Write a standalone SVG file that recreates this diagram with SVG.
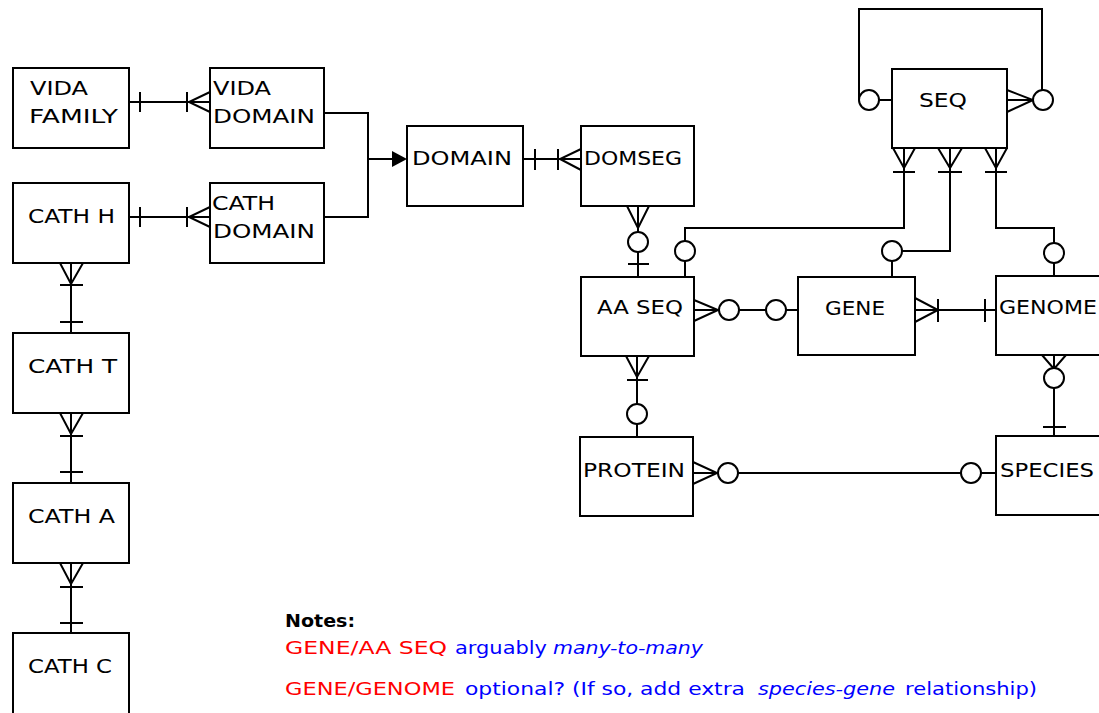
<svg xmlns="http://www.w3.org/2000/svg" width="1099" height="713" viewBox="0 0 1099 713">
<style>
.box{fill:#fff;stroke:#000;stroke-width:2}
.ln{fill:none;stroke:#000;stroke-width:2}
.c{fill:#fff;stroke:#000;stroke-width:2}
.t{font-family:"DejaVu Sans","Liberation Sans",sans-serif;font-size:19px;fill:#000}
.n{font-family:"DejaVu Sans","Liberation Sans",sans-serif;font-size:18.5px}
.red{fill:#ff0000}
.blue{fill:#0000ff}
.it{font-style:italic}
</style>
<rect width="1099" height="713" fill="#fff"/>
<g id="connectors">
  <path class="ln" d="M129,102 H210 M140,92 V112 M187,92 V112 M210,92 L189,102 L210,112"/>
  <path class="ln" d="M129,217 H210 M140,207 V227 M187,207 V227 M210,207 L189,217 L210,227"/>
  <path class="ln" d="M324,113 H368 V217 H324 M368,159 H394"/>
  <polygon points="392,151 407,159 392,167" fill="#000"/>
  <path class="ln" d="M523,159 H581 M535,149 V170 M558,149 V170 M581,149 L560,159 L581,170"/>
  <path class="ln" d="M638,206 V232 M627,206 L638,228 L649,206 M638,252 V277 M628,264 H649"/>
  <circle class="c" cx="638" cy="242" r="10"/>
  <path class="ln" d="M904,148 V228 H685 V241 M893,148 L904,168 L915,148 M893,172 H915 M685,261 V277"/>
  <circle class="c" cx="685" cy="251" r="10"/>
  <path class="ln" d="M950,148 V251 H902 M938,148 L950,168 L962,148 M938,172 H962 M892,261 V277"/>
  <circle class="c" cx="892" cy="251" r="10"/>
  <path class="ln" d="M996,148 V228 H1054 V243 M985,148 L996,168 L1007,148 M985,172 H1007 M1054,263 V276"/>
  <circle class="c" cx="1054" cy="253" r="10"/>
  <path class="ln" d="M892,100 H879 M859,100 V9 H1042 V90 M1007,90 L1033,100 L1007,112 M1007,100 H1033"/>
  <circle class="c" cx="869" cy="100" r="10"/>
  <circle class="c" cx="1043" cy="100" r="10"/>
  <path class="ln" d="M694,300 L718,310 L694,321 M694,310 H719 M739,310 H766 M786,310 H798"/>
  <circle class="c" cx="729" cy="310" r="10"/>
  <circle class="c" cx="776" cy="310" r="10"/>
  <path class="ln" d="M915,298 L938,310 L915,322 M915,310 H996 M938,299 V322 M985,299 V322"/>
  <path class="ln" d="M626,356 L637,377 L649,356 M637,356 V404 M627,380 H648 M637,424 V437"/>
  <circle class="c" cx="637" cy="414" r="10"/>
  <path class="ln" d="M1042,355 L1054,369 L1066,355 M1054,355 V368 M1054,388 V436 M1043,427 H1066"/>
  <circle class="c" cx="1054" cy="378" r="10"/>
  <path class="ln" d="M693,462 L717,473 L693,484 M693,473 H718 M738,473 H961 M981,473 H996"/>
  <circle class="c" cx="728" cy="473" r="10"/>
  <circle class="c" cx="971" cy="473" r="10"/>
  <path class="ln" d="M60,263 L71,284 L83,263 M71,263 V333 M60,285 H83 M60,322 H83"/>
  <path class="ln" d="M60,413 L71,434 L83,413 M71,413 V483 M60,436 H83 M60,472 H83"/>
  <path class="ln" d="M60,563 L71,584 L83,563 M71,563 V633 M60,587 H83 M60,623 H83"/>
</g>
<g id="vida_family"><rect class="box" x="13" y="68" width="116" height="80"/><text class="t" x="30" y="95" textLength="58" lengthAdjust="spacingAndGlyphs">VIDA</text><text class="t" x="29" y="123" textLength="89" lengthAdjust="spacingAndGlyphs">FAMILY</text></g>
<g id="vida_domain"><rect class="box" x="210" y="68" width="114" height="80"/><text class="t" x="213" y="95" textLength="58" lengthAdjust="spacingAndGlyphs">VIDA</text><text class="t" x="213" y="123" textLength="102" lengthAdjust="spacingAndGlyphs">DOMAIN</text></g>
<g id="cath_h"><rect class="box" x="13" y="183" width="116" height="80"/><text class="t" x="28" y="223" textLength="87" lengthAdjust="spacingAndGlyphs">CATH H</text></g>
<g id="cath_domain"><rect class="box" x="210" y="183" width="114" height="80"/><text class="t" x="212" y="210" textLength="63" lengthAdjust="spacingAndGlyphs">CATH</text><text class="t" x="213" y="238" textLength="102" lengthAdjust="spacingAndGlyphs">DOMAIN</text></g>
<g id="domain"><rect class="box" x="407" y="126" width="116" height="80"/><text class="t" x="412" y="165" textLength="100" lengthAdjust="spacingAndGlyphs">DOMAIN</text></g>
<g id="domseg"><rect class="box" x="581" y="126" width="113" height="80"/><text class="t" x="584" y="165" textLength="98" lengthAdjust="spacingAndGlyphs">DOMSEG</text></g>
<g id="aa_seq"><rect class="box" x="581" y="277" width="113" height="79"/><text class="t" x="597" y="314" textLength="86" lengthAdjust="spacingAndGlyphs">AA SEQ</text></g>
<g id="seq"><rect class="box" x="892" y="69" width="115" height="79"/><text class="t" x="919" y="107" textLength="48" lengthAdjust="spacingAndGlyphs">SEQ</text></g>
<g id="gene"><rect class="box" x="798" y="277" width="117" height="78"/><text class="t" x="825" y="315" textLength="60" lengthAdjust="spacingAndGlyphs">GENE</text></g>
<g id="genome"><rect class="box" x="996" y="276" width="120" height="79"/><text class="t" x="999" y="314" textLength="98" lengthAdjust="spacingAndGlyphs">GENOME</text></g>
<g id="protein"><rect class="box" x="580" y="437" width="113" height="79"/><text class="t" x="583" y="477" textLength="102" lengthAdjust="spacingAndGlyphs">PROTEIN</text></g>
<g id="species"><rect class="box" x="996" y="436" width="120" height="79"/><text class="t" x="1000" y="477" textLength="94" lengthAdjust="spacingAndGlyphs">SPECIES</text></g>
<g id="cath_t"><rect class="box" x="13" y="333" width="116" height="80"/><text class="t" x="28" y="373" textLength="89" lengthAdjust="spacingAndGlyphs">CATH T</text></g>
<g id="cath_a"><rect class="box" x="13" y="483" width="116" height="80"/><text class="t" x="28" y="523" textLength="87" lengthAdjust="spacingAndGlyphs">CATH A</text></g>
<g id="cath_c"><rect class="box" x="13" y="633" width="116" height="90"/><text class="t" x="28" y="673" textLength="84" lengthAdjust="spacingAndGlyphs">CATH C</text></g>
<g id="notes">
  <text class="n" x="285" y="627" font-weight="bold" fill="#000" textLength="70" lengthAdjust="spacingAndGlyphs">Notes:</text>
  <text class="n red" x="285" y="654" textLength="162" lengthAdjust="spacingAndGlyphs">GENE/AA SEQ</text>
  <text class="n blue" x="455" y="654" textLength="92" lengthAdjust="spacingAndGlyphs">arguably</text>
  <text class="n blue it" x="553" y="654" textLength="150" lengthAdjust="spacingAndGlyphs">many-to-many</text>
  <text class="n red" x="285" y="695" textLength="170" lengthAdjust="spacingAndGlyphs">GENE/GENOME</text>
  <text class="n blue" x="465" y="695" textLength="280" lengthAdjust="spacingAndGlyphs">optional? (If so, add extra</text>
  <text class="n blue it" x="758" y="695" textLength="137" lengthAdjust="spacingAndGlyphs">species-gene</text>
  <text class="n blue" x="905" y="695" textLength="132" lengthAdjust="spacingAndGlyphs">relationship)</text>
</g>
</svg>
